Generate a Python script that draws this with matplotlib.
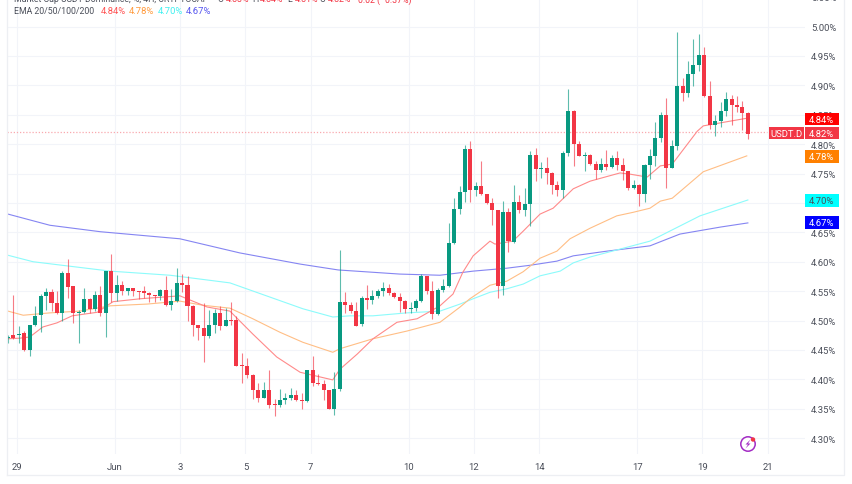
import matplotlib
matplotlib.use("Agg")
import matplotlib.pyplot as plt
from matplotlib.patches import Circle, Polygon, Rectangle

plt.rcParams["font.family"] = ["Roboto", "DejaVu Sans"]

# 4h candles, USDT.D in percent
opens = [
    4.470, 4.476, 4.476, 4.478, 4.450, 4.493, 4.509, 4.541, 4.549, 4.530,
    4.513, 4.581, 4.558, 4.513, 4.514, 4.536, 4.520, 4.544, 4.513, 4.584,
    4.547, 4.560, 4.550, 4.556, 4.550, 4.550, 4.546, 4.543, 4.541, 4.552,
    4.527, 4.534, 4.564, 4.560, 4.525, 4.492, 4.488, 4.474, 4.492, 4.513,
    4.491, 4.501, 4.501, 4.424, 4.422, 4.407, 4.382, 4.369, 4.382, 4.358,
    4.357, 4.365, 4.369, 4.373, 4.364, 4.363, 4.416, 4.394, 4.392, 4.381,
    4.350, 4.384, 4.531, 4.526, 4.517, 4.494, 4.538, 4.535, 4.541, 4.550,
    4.555, 4.546, 4.540, 4.534, 4.519, 4.521, 4.533, 4.575, 4.551, 4.511,
    4.552, 4.559, 4.631, 4.690, 4.719, 4.792, 4.722, 4.729, 4.715, 4.700,
    4.688, 4.558, 4.684, 4.634, 4.701, 4.688, 4.699, 4.781, 4.758, 4.759,
    4.751, 4.731, 4.722, 4.785, 4.857, 4.801, 4.780, 4.781, 4.766, 4.756,
    4.767, 4.761, 4.776, 4.764, 4.755, 4.726, 4.730, 4.715, 4.764, 4.779,
    4.810, 4.849, 4.760, 4.797, 4.899, 4.887, 4.919, 4.934, 4.952, 4.882,
    4.832, 4.840, 4.856, 4.877, 4.866, 4.863, 4.853,
]
highs = [
    4.476, 4.543, 4.490, 4.483, 4.493, 4.524, 4.545, 4.556, 4.554, 4.551,
    4.584, 4.605, 4.559, 4.518, 4.555, 4.539, 4.551, 4.558, 4.585, 4.613,
    4.577, 4.568, 4.556, 4.556, 4.551, 4.558, 4.548, 4.543, 4.554, 4.575,
    4.554, 4.589, 4.579, 4.575, 4.527, 4.493, 4.530, 4.518, 4.520, 4.525,
    4.521, 4.531, 4.507, 4.444, 4.436, 4.409, 4.394, 4.395, 4.416, 4.366,
    4.384, 4.376, 4.386, 4.382, 4.377, 4.416, 4.440, 4.409, 4.398, 4.382,
    4.413, 4.620, 4.548, 4.532, 4.531, 4.542, 4.560, 4.552, 4.553, 4.565,
    4.562, 4.548, 4.547, 4.535, 4.531, 4.537, 4.579, 4.576, 4.567, 4.556,
    4.571, 4.666, 4.708, 4.728, 4.799, 4.805, 4.736, 4.771, 4.715, 4.708,
    4.688, 4.703, 4.692, 4.730, 4.713, 4.725, 4.788, 4.793, 4.770, 4.778,
    4.752, 4.738, 4.789, 4.894, 4.858, 4.806, 4.787, 4.783, 4.772, 4.776,
    4.790, 4.781, 4.789, 4.776, 4.755, 4.739, 4.732, 4.766, 4.792, 4.838,
    4.855, 4.878, 4.807, 4.990, 4.912, 4.942, 4.979, 4.987, 4.966, 4.908,
    4.849, 4.871, 4.888, 4.883, 4.881, 4.874, 4.854,
]
lows = [
    4.462, 4.468, 4.462, 4.449, 4.439, 4.490, 4.480, 4.518, 4.517, 4.511,
    4.500, 4.539, 4.496, 4.461, 4.513, 4.513, 4.517, 4.507, 4.472, 4.532,
    4.534, 4.543, 4.544, 4.541, 4.537, 4.539, 4.531, 4.531, 4.535, 4.525,
    4.518, 4.531, 4.548, 4.500, 4.473, 4.467, 4.430, 4.470, 4.479, 4.484,
    4.490, 4.492, 4.422, 4.393, 4.403, 4.366, 4.362, 4.368, 4.352, 4.338,
    4.353, 4.358, 4.365, 4.363, 4.349, 4.361, 4.388, 4.390, 4.365, 4.349,
    4.340, 4.380, 4.513, 4.512, 4.490, 4.490, 4.519, 4.528, 4.539, 4.542,
    4.544, 4.538, 4.515, 4.512, 4.513, 4.517, 4.531, 4.545, 4.503, 4.509,
    4.548, 4.557, 4.630, 4.681, 4.702, 4.701, 4.712, 4.714, 4.698, 4.663,
    4.538, 4.543, 4.617, 4.632, 4.683, 4.678, 4.661, 4.738, 4.742, 4.732,
    4.716, 4.712, 4.708, 4.779, 4.763, 4.779, 4.755, 4.764, 4.741, 4.752,
    4.756, 4.760, 4.756, 4.739, 4.722, 4.724, 4.695, 4.702, 4.741, 4.763,
    4.803, 4.726, 4.759, 4.790, 4.874, 4.880, 4.899, 4.925, 4.880, 4.826,
    4.814, 4.829, 4.847, 4.832, 4.854, 4.824, 4.809,
]
closes = [
    4.472, 4.470, 4.477, 4.450, 4.493, 4.508, 4.541, 4.549, 4.530, 4.513,
    4.581, 4.557, 4.513, 4.515, 4.536, 4.520, 4.544, 4.513, 4.584, 4.547,
    4.560, 4.550, 4.556, 4.550, 4.549, 4.546, 4.543, 4.541, 4.552, 4.527,
    4.534, 4.564, 4.561, 4.525, 4.492, 4.488, 4.474, 4.492, 4.513, 4.491,
    4.501, 4.500, 4.423, 4.422, 4.407, 4.382, 4.369, 4.382, 4.357, 4.357,
    4.365, 4.369, 4.373, 4.364, 4.363, 4.416, 4.394, 4.392, 4.381, 4.350,
    4.384, 4.531, 4.526, 4.517, 4.491, 4.538, 4.535, 4.541, 4.550, 4.555,
    4.546, 4.540, 4.534, 4.519, 4.521, 4.533, 4.575, 4.551, 4.511, 4.552,
    4.559, 4.631, 4.690, 4.719, 4.792, 4.722, 4.729, 4.715, 4.700, 4.688,
    4.558, 4.684, 4.635, 4.701, 4.688, 4.699, 4.781, 4.758, 4.759, 4.751,
    4.731, 4.722, 4.785, 4.857, 4.801, 4.780, 4.781, 4.766, 4.756, 4.767,
    4.761, 4.776, 4.764, 4.755, 4.726, 4.730, 4.715, 4.764, 4.779, 4.810,
    4.849, 4.760, 4.797, 4.899, 4.887, 4.919, 4.934, 4.952, 4.882, 4.832,
    4.840, 4.856, 4.877, 4.866, 4.863, 4.853, 4.818,
]

# EMA lines, read at candle positions
ema20_x = [0, 2.2, 4, 6.4, 9, 11.8, 16.4, 19.3, 24.3, 31.6, 36.6, 40.8, 45, 49.4, 53.7, 59.7, 61, 64.2, 67.1, 71.5, 75.2, 79.4, 81.8, 83.6, 85.5, 88.6, 89.5, 92.8, 94.7, 97.8, 100.2, 102, 103.9, 107, 112.5, 114.3, 117.5, 119.9, 122.1, 126.7, 127.8, 132.7, 135.8]
ema20 = [4.469, 4.470, 4.472, 4.489, 4.496, 4.508, 4.514, 4.532, 4.537, 4.542, 4.523, 4.516, 4.477, 4.438, 4.412, 4.399, 4.417, 4.443, 4.469, 4.497, 4.503, 4.525, 4.545, 4.582, 4.610, 4.635, 4.630, 4.635, 4.652, 4.681, 4.691, 4.707, 4.724, 4.737, 4.751, 4.749, 4.744, 4.763, 4.766, 4.822, 4.831, 4.839, 4.844]
ema50_x = [0, 2.8, 7.7, 13.2, 18.8, 25.6, 31.6, 35.8, 40.8, 45, 50, 54.2, 59.7, 61, 67.1, 73.3, 79.4, 83.1, 84.9, 88.6, 91.7, 94.7, 97.8, 100.9, 103.3, 107, 111.9, 114.9, 118, 119.9, 122.1, 127.8, 135.8]
ema50 = [4.516, 4.509, 4.513, 4.516, 4.525, 4.528, 4.533, 4.526, 4.521, 4.503, 4.480, 4.463, 4.446, 4.452, 4.469, 4.482, 4.497, 4.523, 4.537, 4.560, 4.567, 4.583, 4.606, 4.618, 4.639, 4.657, 4.678, 4.684, 4.691, 4.703, 4.708, 4.753, 4.780]
ema100_x = [0, 4.6, 10.8, 18.8, 29.8, 40.8, 54.2, 59.7, 62.9, 67.1, 73.3, 79.4, 83.1, 85.5, 88.6, 91.7, 94.7, 97.8, 101.5, 103.9, 107, 111.9, 118, 127.2, 136]
ema100 = [4.611, 4.600, 4.593, 4.584, 4.577, 4.564, 4.520, 4.506, 4.508, 4.508, 4.513, 4.516, 4.528, 4.537, 4.548, 4.554, 4.562, 4.576, 4.584, 4.598, 4.608, 4.620, 4.635, 4.678, 4.705]
ema200_x = [0, 7.7, 17, 31.6, 42.6, 53.7, 60.7, 72, 79.4, 85.5, 91.7, 96, 100.9, 103.9, 110.1, 118, 123.5, 131, 136]
ema200 = [4.681, 4.662, 4.651, 4.639, 4.615, 4.596, 4.586, 4.579, 4.577, 4.584, 4.589, 4.594, 4.601, 4.610, 4.618, 4.627, 4.647, 4.659, 4.666]

# days after 29 May, and their labels
tick_days = [0, 3, 5, 7, 9, 12, 14, 16, 19, 21, 23]
tick_labels = ["29", "Jun", "3", "5", "7", "10", "12", "14", "17", "19", "21"]
price_ticks = [4.30, 4.35, 4.40, 4.45, 4.50, 4.55, 4.60, 4.65, 4.70, 4.75, 4.80, 4.85, 4.90, 4.95, 5.00]
last_price = 4.82

GREEN = "#089981"
RED = "#F23645"
GRID = "#F2F4F9"
TEXT = "#4A4E59"
FS = 6.8
HEAD_FS = 6.35
W, H = 852, 485


def px_rect(x0, y0, x1, y1):
    return [x0 / W, 1 - y1 / H, (x1 - x0) / W, (y1 - y0) / H]


def draw_candles(ax):
    for i, (o, h, l, c) in enumerate(zip(opens, highs, lows, closes)):
        color = GREEN if c >= o else RED
        ax.vlines(i, l, h, color=color, lw=0.8, alpha=0.65, zorder=3)
        ax.bar(i, max(abs(c - o), 0.0015), bottom=min(o, c), width=0.74, color=color, lw=0, zorder=4)


def draw_tags(ov):
    tags = [
        (120, "4.84%", "#FF0000", "white"),
        (134, "4.82%", RED, "white"),
        (157.5, "4.78%", "#FF8000", "white"),
        (201.5, "4.70%", "#00FFFF", TEXT),
        (223.5, "4.67%", "#0000FF", "white"),
    ]
    for y, label, bg, fg in tags:
        ov.add_patch(Rectangle((805, y - 6.3), 33.5, 12.6, color=bg, lw=0, zorder=5))
        ov.text(821.7, y + 0.2, label, color=fg, fontsize=FS, ha="center", va="center", zorder=6)
    ov.add_patch(Rectangle((769, 127.7), 35.3, 12.6, color=RED, lw=0, zorder=5))
    ov.text(786.6, 134.2, "USDT.D", color="white", fontsize=FS, ha="center", va="center", zorder=6)


def draw_header(ov):
    ov.text(14, 0, "Market Cap USDT Dominance, %, 4H, CRYPTOCAP", color=TEXT, fontsize=HEAD_FS, va="center")
    for x, label in [(218, "O"), (252, "H"), (287, "L"), (320, "C")]:
        ov.text(x, 0, label, color=TEXT, fontsize=HEAD_FS, va="center")
    for x, label in [(226, "4.83%"), (260, "4.84%"), (295, "4.81%"), (328, "4.82%"), (353, "−0.02 (−0.37%)")]:
        ov.text(x, 0, label, color=RED, fontsize=HEAD_FS, va="center")
    ov.text(14, 11, "EMA 20/50/100/200", color=TEXT, fontsize=HEAD_FS, va="center")
    for x, label, color in [(101, "4.84%", "#FF5252"), (129, "4.78%", "#FF9A3C"),
                            (158, "4.70%", "#40F0F0"), (186, "4.67%", "#5555EE")]:
        ov.text(x, 11, label, color=color, fontsize=FS, va="center")


def draw_bolt(ov):
    ov.add_patch(Circle((748, 445), 7.2, fc="white", ec="#A32CC4", lw=1.1, zorder=5))
    ov.add_patch(Polygon([(750.5, 440.5), (745.5, 445.5), (748, 445.5), (745.5, 449.5), (750.5, 444.5), (748, 444.5)],
                         fc="#A32CC4", lw=0, zorder=6))
    ov.add_patch(Circle((753, 440.5), 2.2, fc="#F23645", lw=0, zorder=7))


def main():
    fig = plt.figure(figsize=(W / 100, H / 100), dpi=100, facecolor="white")
    ax = fig.add_axes(px_rect(7, 0, 805, 455))

    ax.set_xlim(-0.18, 146.5)
    ax.set_ylim(4.273, 5.0468)
    for s in ax.spines.values():
        s.set_visible(False)

    ax.set_xticks([d * 6 + 1.65 for d in tick_days])
    ax.set_xticklabels(tick_labels)
    ax.set_yticks(price_ticks)
    ax.set_yticklabels([f"{p:.2f}%" for p in price_ticks])
    ax.yaxis.tick_right()
    ax.tick_params(axis="both", length=0, labelsize=FS, labelcolor=TEXT)
    ax.tick_params(axis="x", pad=6)
    ax.tick_params(axis="y", pad=4.5)
    ax.grid(True, color=GRID, lw=0.8, zorder=0)
    ax.set_axisbelow(True)

    ax.plot(ema200_x, ema200, color="#8585F2", lw=0.8, zorder=2)
    ax.plot(ema100_x, ema100, color="#8CFBFB", lw=0.8, zorder=2)
    ax.plot(ema50_x, ema50, color="#FFBE85", lw=0.8, zorder=2)
    ax.plot(ema20_x, ema20, color="#FF8A8A", lw=0.8, zorder=2)

    draw_candles(ax)
    ax.plot([-0.18, 139.6], [last_price, last_price], color="#F9A9AF", lw=0.9, ls=(0, (1, 1.5)), zorder=2)

    # overlay in pixel coordinates for the chrome around the chart
    ov = fig.add_axes([0, 0, 1, 1], facecolor="none")
    ov.set_xlim(0, W)
    ov.set_ylim(H, 0)
    ov.axis("off")
    ov.plot([7, 7], [0, 476], color="#EDEFF3", lw=0.9)
    ov.plot([7, 844, 844], [476, 476, 0], color="#EDEFF3", lw=0.9)
    ov.text(811, -1.5, "5.05%", color=TEXT, fontsize=FS, va="center")

    draw_tags(ov)
    draw_header(ov)
    draw_bolt(ov)

    fig.savefig("out.png", dpi=100)


if __name__ == "__main__":
    main()
